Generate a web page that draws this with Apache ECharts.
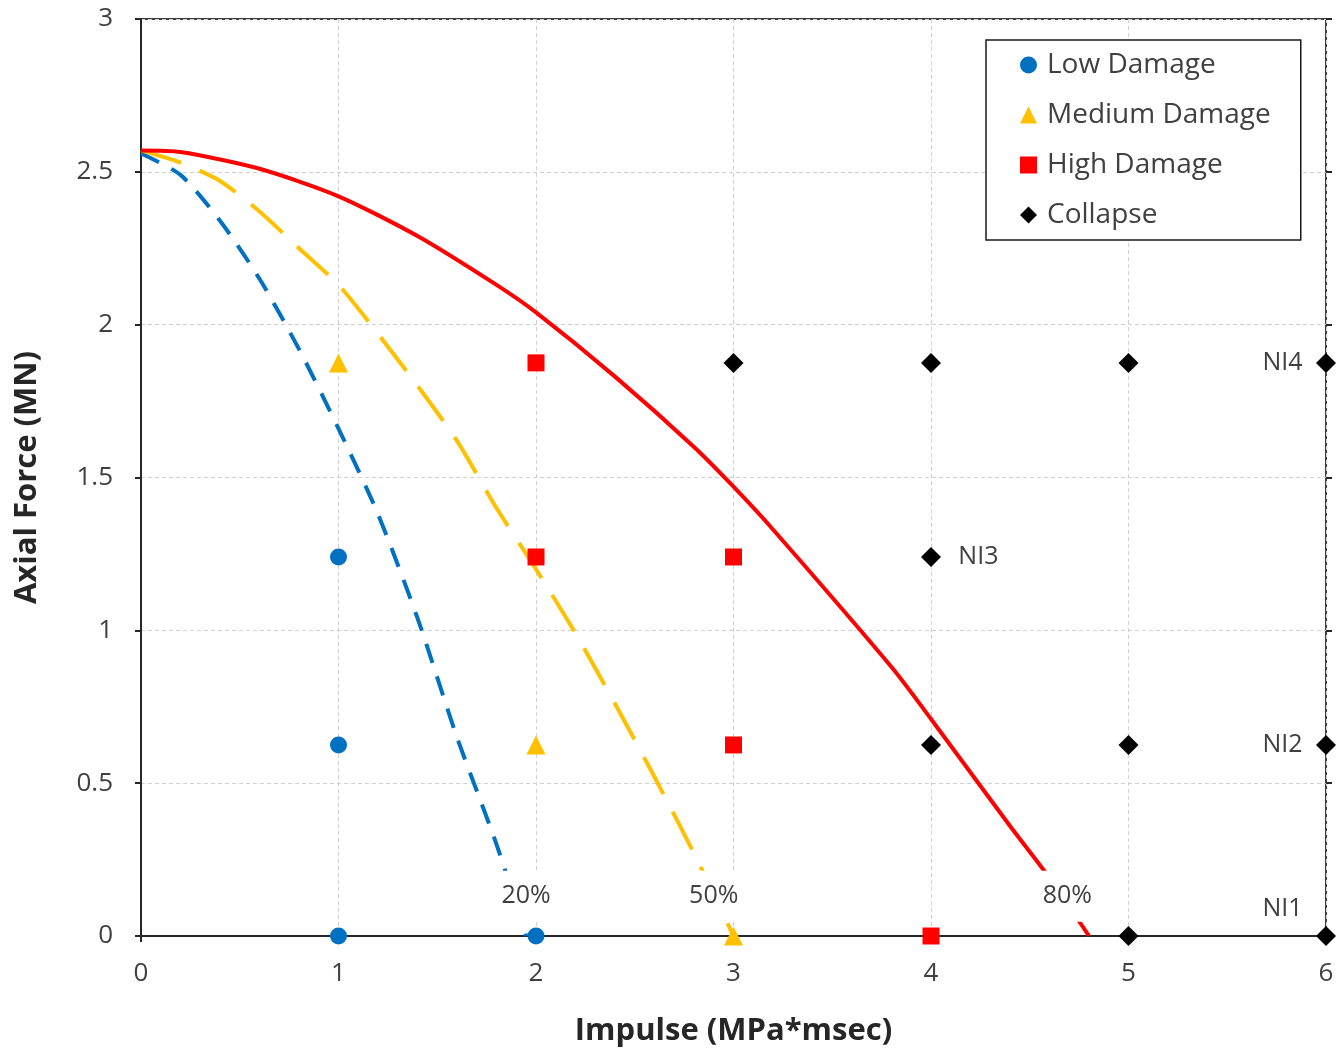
<!DOCTYPE html>
<html>
<head>
<meta charset="utf-8">
<script src="https://cdn.jsdelivr.net/npm/echarts@6/dist/echarts.min.js"></script>
<style>
  html, body { margin: 0; padding: 0; background: #fff; }
  #chart { width: 1344px; height: 1052px; }
</style>
</head>
<body>
<div id="chart"></div>
<script>
// capacity curves (impulse MPa*msec, axial force MN)
const curve20 = [[0, 2.56], [0.2, 2.49], [0.4, 2.34], [0.6, 2.15], [0.8, 1.92], [1.0, 1.66],
  [1.2, 1.38], [1.4, 1.04], [1.6, 0.65], [1.8, 0.3], [1.95, 0]]
const curve50 = [[0, 2.57], [0.2, 2.53], [0.4, 2.47], [0.6, 2.37], [0.8, 2.25], [1.0, 2.13],
  [1.2, 1.97], [1.4, 1.80], [1.6, 1.62], [1.8, 1.40], [2.0, 1.20], [2.2, 0.99], [2.4, 0.76],
  [2.6, 0.52], [2.8, 0.27], [3.0, 0]]
const curve80 = [[0, 2.57], [0.2, 2.565], [0.6, 2.51], [1.0, 2.42], [1.4, 2.29], [1.8, 2.13],
  [2.0, 2.04], [2.4, 1.83], [2.8, 1.60], [3.0, 1.47], [3.2, 1.33], [3.8, 0.88], [4.0, 0.71],
  [4.4, 0.36], [4.6, 0.19], [4.8, 0]]

// damage observations
const lowDamage = [[1, 0], [1, 0.625], [1, 1.24], [2, 0]]
const mediumDamage = [[1, 1.875], [2, 0.625], [3, 0]]
const highDamage = [[2, 1.875], [2, 1.24], [3, 1.24], [3, 0.625], [4, 0]]
const collapse = [[3, 1.875], [4, 1.875], [5, 1.875], [6, 1.875], [4, 1.24], [4, 0.625],
  [5, 0.625], [6, 0.625], [5, 0], [6, 0]]

// text labels on the plot
const curveLabels = [[1.95, 0.13, '20%'], [2.9, 0.13, '50%'], [4.69, 0.13, '80%']]
const levelLabels = [[5.78, 1.875, 'NI4'], [4.24, 1.24, 'NI3'], [5.78, 0.625, 'NI2'], [5.78, 0.09, 'NI1']]

const font = 'Open Sans'
const textColor = '#404040'
const gridW = 1344 - 141 - 18
const gridH = 1052 - 19 - 112

const chart = echarts.init(document.getElementById('chart'))

const lineSeries = (name, data, color, dash) => ({
  name: name,
  type: 'line',
  data: data,
  smooth: 0.25,
  showSymbol: false,
  symbol: 'none',
  z: 2,
  lineStyle: { color: color, width: 4, type: dash || 'solid', cap: 'butt' }
})

const scatterSeries = (name, data, symbol, size, color) => ({
  name: name,
  type: 'scatter',
  data: data,
  symbol: symbol,
  symbolSize: size,
  z: 5,
  itemStyle: { color: color, opacity: 1 }
})

const textSeries = (name, data, extra) => ({
  name: name,
  type: 'scatter',
  data: data,
  symbolSize: 1,
  z: 4,
  silent: true,
  itemStyle: { color: 'rgba(0,0,0,0)', opacity: 1 },
  label: Object.assign({
    show: true, position: 'inside',
    formatter: p => p.data[2],
    fontFamily: font, fontSize: 25, color: textColor
  }, extra)
})

chart.setOption({
  backgroundColor: '#fff',
  animation: false,
  textStyle: { fontFamily: font },
  grid: {
    left: 141, right: 18, top: 19, bottom: 112,
    show: true, borderColor: '#404040', borderWidth: 2
  },
  legend: {
    orient: 'vertical',
    left: 986, top: 40,
    data: ['Low Damage', 'Medium Damage', 'High Damage', 'Collapse'],
    itemWidth: 17, itemHeight: 17, itemGap: 22,
    padding: [11, 30, 11, 34],
    borderColor: '#1a1a1a', borderWidth: 1.5,
    backgroundColor: '#fff',
    textStyle: { fontFamily: font, fontSize: 28, color: textColor, lineHeight: 24, padding: [0, 0, 0, 5] }
  },
  xAxis: [{
    type: 'value', min: 0, max: 6, interval: 1,
    name: 'Impulse (MPa*msec)', nameLocation: 'middle', nameGap: 80,
    nameTextStyle: { fontFamily: font, fontSize: 31, fontWeight: 'bold', color: '#262626' },
    axisLine: { onZero: false, lineStyle: { color: '#262626', width: 2 } },
    axisTick: { show: true, length: 6, lineStyle: { color: '#262626', width: 2 } },
    axisLabel: { fontFamily: font, fontSize: 26, color: textColor, margin: 25 },
    splitLine: { show: true, lineStyle: { color: '#d0d0d0', width: 1, type: [4, 3] } }
  }, {
    type: 'value', min: 0, max: 6, interval: 1, position: 'top', offset: -gridH,
    axisLine: { show: false },
    axisTick: { show: true, length: 6, lineStyle: { color: '#262626', width: 2 } },
    axisLabel: { show: false },
    splitLine: { show: false }
  }],
  yAxis: [{
    type: 'value', min: 0, max: 3, interval: 0.5,
    name: 'Axial Force (MN)', nameLocation: 'middle', nameGap: 98,
    nameTextStyle: { fontFamily: font, fontSize: 31, fontWeight: 'bold', color: '#262626' },
    axisLine: { show: true, onZero: false, lineStyle: { color: '#262626', width: 2 } },
    axisTick: { show: true, length: 6, lineStyle: { color: '#262626', width: 2 } },
    axisLabel: { fontFamily: font, fontSize: 26, color: textColor, margin: 28 },
    splitLine: { show: true, lineStyle: { color: '#d0d0d0', width: 1, type: [4, 3] } }
  }, {
    type: 'value', min: 0, max: 3, interval: 0.5, position: 'right', offset: -gridW,
    axisLine: { show: false },
    axisTick: { show: true, length: 6, lineStyle: { color: '#262626', width: 2 } },
    axisLabel: { show: false },
    splitLine: { show: false }
  }],
  series: [
    lineSeries('20%', curve20, '#0070C0', [20, 14]),
    lineSeries('50%', curve50, '#FFC000', [42, 20]),
    lineSeries('80%', curve80, '#FF0000'),
    scatterSeries('Low Damage', lowDamage, 'circle', 17, '#0070C0'),
    scatterSeries('Medium Damage', mediumDamage, 'triangle', 19, '#FFC000'),
    scatterSeries('High Damage', highDamage, 'rect', 17, '#FF0000'),
    scatterSeries('Collapse', collapse, 'diamond', 20, '#000000'),
    textSeries('curve labels', curveLabels, { backgroundColor: '#fff', padding: [10, 3, 16, 3] }),
    textSeries('level labels', levelLabels, {})
  ]
})
</script>
</body>
</html>
